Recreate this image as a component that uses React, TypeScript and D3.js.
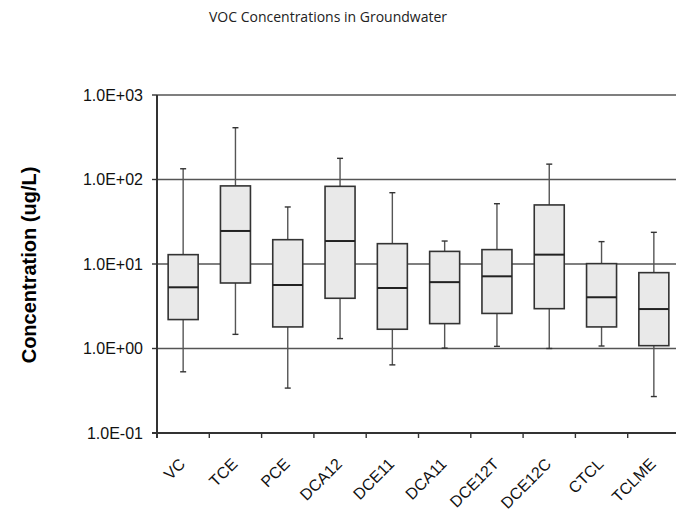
import React from "react";
import * as d3 from "d3";

// box plot stats per compound (ug/L)
const compounds = ["VC", "TCE", "PCE", "DCA12", "DCE11", "DCA11", "DCE12T", "DCE12C", "CTCL", "TCLME"];
const whiskerLow = [0.53, 1.47, 0.34, 1.31, 0.64, 1.01, 1.06, 1.0, 1.07, 0.27];
const q1 = [2.2, 5.96, 1.8, 3.93, 1.69, 1.97, 2.6, 2.96, 1.8, 1.08];
const median = [5.3, 24.6, 5.64, 18.7, 5.2, 6.1, 7.15, 12.9, 4.04, 2.93];
const q3 = [12.9, 84, 19.4, 83, 17.4, 14.1, 14.8, 50, 10.1, 7.9];
const whiskerHigh = [134, 410, 47.3, 178, 69.8, 18.7, 51.7, 152, 18.4, 23.7];
const yTicks = [0.1, 1, 10, 100, 1000];
const yTickLabels = ["1.0E-01", "1.0E+00", "1.0E+01", "1.0E+02", "1.0E+03"];

const W = 676;
const H = 521;
const m = { top: 95, left: 157, bottom: 433, right: 680 };

export default function App() {
  const x = d3.scaleBand().domain(compounds).range([m.left, m.right]);
  const y = d3.scaleLog().domain([0.1, 1000]).range([m.bottom, m.top]);
  const boxW = 30;
  const capW = 6;

  return (
    <svg
      width={W}
      height={H}
      style={{ position: "absolute", left: 0, top: 0, background: "#fff" }}
    >
      <text
        x={328}
        y={22}
        textAnchor="middle"
        style={{ fontFamily: "'Open Sans', sans-serif", fontSize: 14, fill: "#222" }}
      >
        VOC Concentrations in Groundwater
      </text>

      {/* gridlines */}
      {yTicks.slice(1).map(t => (
        <line key={"g" + t} x1={m.left} x2={m.right} y1={y(t)} y2={y(t)} stroke="#555" strokeWidth={1.4} />
      ))}

      {/* y axis */}
      <line x1={m.left} x2={m.left} y1={m.top} y2={m.bottom + 5} stroke="#333" strokeWidth={2} />
      {yTicks.map((t, i) => (
        <g key={"yt" + t}>
          <line x1={m.left - 5} x2={m.left} y1={y(t)} y2={y(t)} stroke="#333" strokeWidth={1.4} />
          <text
            x={143}
            y={y(t)}
            dy="0.35em"
            textAnchor="end"
            style={{ fontFamily: "'Liberation Sans', Arial, sans-serif", fontSize: 16, fill: "#111" }}
          >
            {yTickLabels[i]}
          </text>
        </g>
      ))}
      <text
        transform={`translate(36, 265) rotate(-90)`}
        textAnchor="middle"
        style={{ fontFamily: "'Liberation Sans', Arial, sans-serif", fontSize: 20, fontWeight: "bold", fill: "#000" }}
      >
        Concentration (ug/L)
      </text>

      {/* x axis */}
      <line x1={m.left - 5} x2={m.right} y1={m.bottom} y2={m.bottom} stroke="#333" strokeWidth={2} />
      {compounds.slice(1).map(c => (
        <line key={"xt" + c} x1={x(c)!} x2={x(c)!} y1={m.bottom} y2={m.bottom + 5} stroke="#333" strokeWidth={1.4} />
      ))}
      {compounds.map(c => {
        const cx = x(c)! + x.bandwidth() / 2;
        return (
          <text
            key={"xl" + c}
            transform={`translate(${cx + 3}, ${m.bottom + 32}) rotate(-45)`}
            textAnchor="end"
            style={{ fontFamily: "'Liberation Sans', Arial, sans-serif", fontSize: 16, fill: "#111" }}
          >
            {c}
          </text>
        );
      })}

      {/* boxes */}
      {compounds.map((c, i) => {
        const cx = x(c)! + x.bandwidth() / 2;
        return (
          <g key={"b" + c}>
            <line x1={cx} x2={cx} y1={y(whiskerHigh[i])} y2={y(q3[i])} stroke="#555" strokeWidth={1.4} />
            <line x1={cx} x2={cx} y1={y(q1[i])} y2={y(whiskerLow[i])} stroke="#555" strokeWidth={1.4} />
            <line x1={cx - capW / 2} x2={cx + capW / 2} y1={y(whiskerHigh[i])} y2={y(whiskerHigh[i])} stroke="#333" strokeWidth={1.4} />
            <line x1={cx - capW / 2} x2={cx + capW / 2} y1={y(whiskerLow[i])} y2={y(whiskerLow[i])} stroke="#333" strokeWidth={1.4} />
            <rect
              x={cx - boxW / 2}
              y={y(q3[i])}
              width={boxW}
              height={y(q1[i]) - y(q3[i])}
              fill="#e9e9e9"
              stroke="#333"
              strokeWidth={1.6}
            />
            <line x1={cx - boxW / 2} x2={cx + boxW / 2} y1={y(median[i])} y2={y(median[i])} stroke="#222" strokeWidth={2} />
          </g>
        );
      })}
    </svg>
  );
}
